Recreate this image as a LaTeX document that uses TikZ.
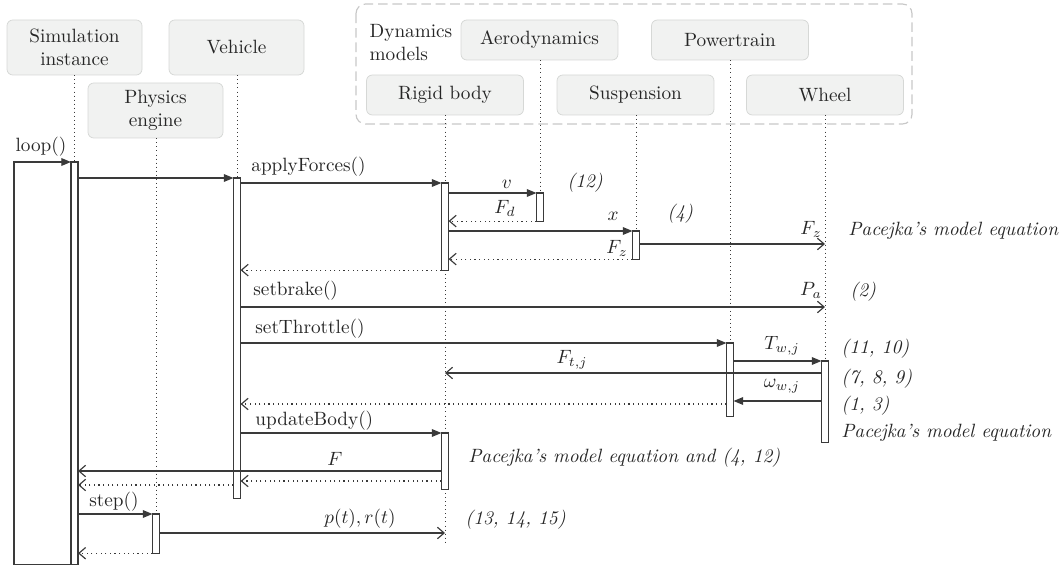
\documentclass[tikz,border=0pt]{standalone}
\usetikzlibrary{arrows.meta}

\definecolor{boxfill}{HTML}{F1F2F1}
\definecolor{boxline}{HTML}{D6D8D6}
\definecolor{grpline}{HTML}{C8C8C8}
\definecolor{linecol}{HTML}{3A3A3A}
\definecolor{txt}{HTML}{262626}

\begin{document}
\begin{tikzpicture}[
    x=0.52pt, y=-0.52pt, text=txt,
    obj/.style={draw=boxline, fill=boxfill, rounded corners=3pt, align=center, minimum width=70.2pt, minimum height=28.6pt, inner sep=1pt},
    dyn/.style={obj, minimum width=81.6pt, minimum height=20.8pt},
    life/.style={draw=linecol, line width=0.5pt, dash pattern=on 0.5pt off 1.6pt},
    act/.style={draw=linecol, fill=white, line width=0.6pt, minimum width=3.1pt, inner sep=0pt, anchor=north},
    call/.style={draw=linecol, line width=0.6pt, -{Triangle[length=5pt,width=4pt]}},
    msg/.style={draw=linecol, line width=0.6pt, -{Straight Barb[length=3.5pt,width=6pt]}},
    ret/.style={msg, dash pattern=on 0.6pt off 1.8pt},
    lbl/.style={inner sep=0pt},
    eq/.style={inner sep=0pt, anchor=west, font=\itshape}
]
\useasboundingbox (0,0) rectangle (1063,567);

% group of dynamics models
\draw[grpline, line width=0.6pt, dash pattern=on 5pt off 2.5pt, rounded corners=5pt] (356,4) rectangle (912,124);
\node[lbl, align=left] (dmod) at (411,43) {Dynamics\\models};

% objects
\node[obj] (sim) at (74.5,47.5) {Simulation\\instance};
\node[obj] (veh) at (236.5,47.5) {Vehicle};
\node[obj] (phy) at (155.5,110.5) {Physics\\engine};
\node[dyn] (aero) at (539.5,40) {Aerodynamics};
\node[dyn] (pow) at (730,40) {Powertrain};
\node[dyn] (rb) at (445,95) {Rigid body};
\node[dyn] (sus) at (635.5,95) {Suspension};
\node[dyn] (whl) at (825,95) {Wheel};

% end of the rigid body lifeline
\coordinate (rbend) at (445,545);

% activations
\node[act, minimum height=208.5pt] (sa) at (74.5,162) {};
\node[act, minimum height=165.9pt] (va) at (237,178) {};
\node[act, minimum height=44.7pt] (ra1) at (445,183) {};
\node[act, minimum height=14pt] (aa) at (540,193) {};
\node[act, minimum height=14pt] (ua) at (636,231) {};
\node[act, minimum height=37.4pt] (pa) at (730,343) {};
\node[act, minimum height=41.6pt] (wa) at (825,361) {};
\node[act, minimum height=28.6pt] (ra2) at (445,433) {};
\node[act, minimum height=19.8pt] (pe) at (156,514) {};

% lifelines
\draw[life] (sim.south -| sa) -- (sa.north);
\draw[life] (veh.south -| va) -- (va.north);
\draw[life] (phy.south -| pe) -- (pe.north);
\draw[life] (aero.south -| aa) -- (aa.north);
\draw[life] (pow.south -| pa) -- (pa.north);
\draw[life] (sus.south -| ua) -- (ua.north);
\draw[life] (whl.south -| wa) -- (wa.north);
\draw[life] (rb.south) -- (ra1.north);
\draw[life] (ra1.south) -- (ra2.north);
\draw[life] (ra2.south) -- (rbend);

% redraw activations over the lifelines
\foreach \a in {sa,va,ra1,aa,ua,pa,wa,ra2,pe}
  \draw[draw=linecol, fill=white, line width=0.6pt] (\a.south west) rectangle (\a.north east);

% loop frame
\coordinate (lpl) at (14,162);
\draw[call] (sa.south west) -| (lpl) -- (sa.north west);
\node[lbl] (lloop) at (41,147) {loop()};

% messages
\draw[call] (sa.east |- va.north) -- (va.north west);
\draw[call] (va.east |- ra1.north) -- (ra1.north west);
\draw[call] (ra1.east |- aa.north) -- (aa.north west);
\draw[ret] (aa.south west) -- (ra1.east |- aa.south);
\draw[call] (ra1.east |- ua.north) -- (ua.north west);
\draw[msg] (ua.east |- 0,244) -- (whl |- 0,244);
\draw[ret] (ua.south west) -- (ra1.east |- ua.south);
\draw[ret] (ra1.south west) -- (va.east |- ra1.south);
\draw[msg] (va.east |- 0,307) -- (whl |- 0,307);
\draw[call] (va.east |- pa.north) -- (pa.north west);
\draw[call] (pa.east |- wa.north) -- (wa.north west);
\draw[msg] (wa.west |- 0,373) -- (rb |- 0,373);
\draw[call] (wa.west |- 0,401) -- (pa.east |- 0,401);
\draw[ret] (pa.west |- 0,404) -- (va.east |- 0,404);
\draw[call] (va.east |- ra2.north) -- (ra2.north west);
\draw[msg] (ra2.west |- 0,471) -- (sa.east |- 0,471);
\draw[ret] (ra2.west |- 0,481) -- (va.east |- 0,481);
\draw[ret] (va.west |- 0,485) -- (sa.east |- 0,485);
\draw[call] (sa.east |- pe.north) -- (pe.north west);
\draw[msg] (pe.east |- 0,533) -- (rb |- 0,533);
\draw[ret] (pe.south west) -- (sa.east |- pe.south);

% message labels
\node[lbl, anchor=west] (lapp) at (251,167) {applyForces()};
\node[lbl] (lv) at (507,184) {$v$};
\node[lbl] (lfd) at (505,208) {$F_d$};
\node[lbl] (lx) at (613,216) {$x$};
\node[lbl] (lfz) at (811,229) {$F_z$};
\node[lbl] (lfz2) at (617,248) {$F_z$};
\node[lbl, anchor=west] (lbrk) at (253,291) {setbrake()};
\node[lbl] (lpa) at (811,290) {$P_a$};
\node[lbl, anchor=west] (lthr) at (255,329) {setThrottle()};
\node[lbl] (ltw) at (782,346) {$T_{w,j}$};
\node[lbl] (lft) at (572,360) {$F_{t,j}$};
\node[lbl] (lom) at (782,386) {$\omega_{w,j}$};
\node[lbl, anchor=west] (lupd) at (255,421) {updateBody()};
\node[lbl] (lf) at (335,459) {$F$};
\node[lbl, anchor=west] (lstep) at (89,502) {step()};
\node[lbl] (lpr) at (360,519) {$p(t), r(t)$};

% equation references
\node[eq] (e12) at (567,183) {(12)};
\node[eq] (e4) at (667,214) {(4)};
\node[eq] (epac1) at (848,231) {Pacejka's model equation};
\node[eq] (e2) at (850,292) {(2)};
\node[eq] (e1110) at (841,349) {(11, 10)};
\node[eq] (e789) at (841,379) {(7, 8, 9)};
\node[eq] (e13) at (841,406) {(1, 3)};
\node[eq] (epac2) at (841,433) {Pacejka's model equation};
\node[eq] (epac3) at (468,458) {Pacejka's model equation and (4, 12)};
\node[eq] (e131415) at (465,520) {(13, 14, 15)};
\end{tikzpicture}
\end{document}
